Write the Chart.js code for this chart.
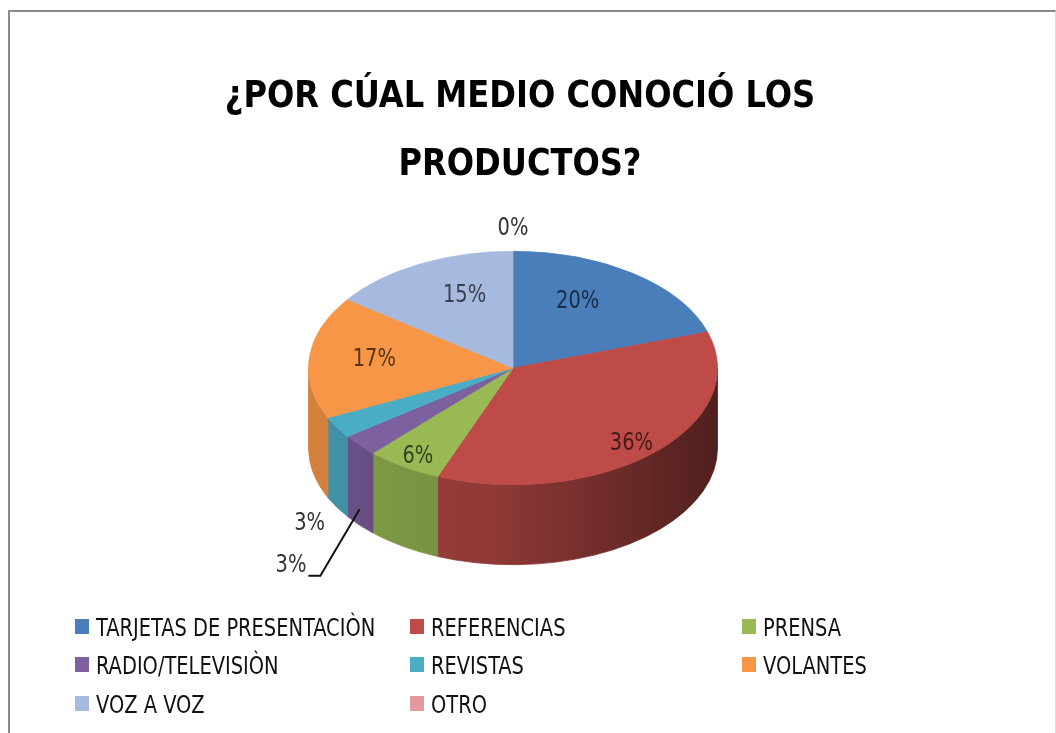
<!DOCTYPE html>
<html>
<head>
<meta charset="utf-8">
<script src="https://cdn.jsdelivr.net/npm/chart.js@4/dist/chart.umd.min.js"></script>
<style>
  html, body { margin: 0; padding: 0; background: #fff; overflow: hidden; }
  #wrap { position: absolute; left: 0; top: 0; width: 1056px; height: 733px; }
  #frame {
    position: absolute; left: 8px; top: 10px; width: 1048px; height: 760px;
    border-left: 2px solid #8a8a8a; border-top: 2px solid #8a8a8a; border-right: 1px solid #dcdcdc;
    box-sizing: border-box; pointer-events: none;
  }
</style>
</head>
<body>
<div id="wrap"><canvas id="c" width="1056" height="733"></canvas></div>
<div id="frame"></div>
<script>
// Survey answers: how people came to know the products
const categories = [
  'TARJETAS DE PRESENTACIÒN', 'REFERENCIAS', 'PRENSA',
  'RADIO/TELEVISIÒN', 'REVISTAS', 'VOLANTES',
  'VOZ A VOZ', 'OTRO'
];
const percentages = [20, 36, 6, 3, 3, 17, 15, 0];
const sliceColors = ['#4A7EBB', '#BE4B48', '#98B954', '#7D60A0', '#4BACC6', '#F79646', '#A6B9DE', '#E39A9E'];
const titleLines = ['¿POR CÚAL MEDIO CONOCIÓ LOS', 'PRODUCTOS?'];

// Tilted-disc look: vertical squash of the pie and the thickness of its edge
const SQUASH = 117 / 205;
const DEPTH = 80;

const NARROW = '"Liberation Sans Narrow", "DejaVu Sans Condensed", "Liberation Sans", sans-serif';

function shade(hex, f) {
  const n = parseInt(hex.slice(1), 16);
  const r = Math.round(((n >> 16) & 255) * f);
  const g = Math.round(((n >> 8) & 255) * f);
  const b = Math.round((n & 255) * f);
  return `rgb(${r},${g},${b})`;
}

function drawText(ctx, text, x, y, opts) {
  ctx.save();
  ctx.font = opts.font;
  ctx.fillStyle = opts.color || '#000';
  ctx.textAlign = opts.align || 'left';
  ctx.textBaseline = opts.baseline || 'alphabetic';
  ctx.translate(x, y);
  ctx.scale(opts.sx || 1, 1);
  ctx.fillText(text, 0, 0);
  ctx.restore();
}

// Squashes the pie vertically and paints the visible rim under the top faces
const pie3d = {
  id: 'pie3d',
  beforeDatasetsDraw(chart) {
    const ctx = chart.ctx;
    const meta = chart.getDatasetMeta(0);
    const first = meta.data[0];
    const cx = first.x, cy = first.y, r = first.outerRadius;
    const D = DEPTH / SQUASH;
    ctx.save();
    ctx.translate(0, cy);
    ctx.scale(1, SQUASH);
    ctx.translate(0, -cy);
    meta.data.forEach((el, i) => {
      const a0 = Math.max(el.startAngle, 0);
      const a1 = Math.min(el.endAngle, Math.PI);
      if (a1 <= a0) return;
      const base = sliceColors[i];
      const g = ctx.createLinearGradient(cx - r, 0, cx + r, 0);
      g.addColorStop(0, shade(base, 0.86));
      g.addColorStop(0.45, shade(base, 0.76));
      g.addColorStop(1, shade(base, 0.42));
      ctx.beginPath();
      ctx.arc(cx, cy, r, a0, a1);
      ctx.arc(cx, cy + D, r, a1, a0, true);
      ctx.closePath();
      ctx.fillStyle = g;
      ctx.strokeStyle = g;
      ctx.lineWidth = 1;
      ctx.fill();
      ctx.stroke();
    });
  },
  afterDatasetsDraw(chart) {
    chart.ctx.restore();
  }
};

// Title, percentage labels and the three-column legend
const decorations = {
  id: 'decorations',
  afterDraw(chart) {
    const ctx = chart.ctx;

    // title
    drawText(ctx, titleLines[0], 520, 107, { font: `bold 38px ${NARROW}`, align: 'center', color: '#000', sx: 0.94 });
    drawText(ctx, titleLines[1], 520, 175, { font: `bold 38px ${NARROW}`, align: 'center', color: '#000', sx: 0.94 });

    // percentage labels
    const meta = chart.getDatasetMeta(0);
    const first = meta.data[0];
    const cx = first.x, cy = first.y, r = first.outerRadius;
    const labelFont = `24px ${NARROW}`;
    const LH = 18, GAP = 14;
    const placed = [];
    const order = meta.data.map((_, i) => i).reverse();
    order.forEach(i => {
      const el = meta.data[i];
      const m = (el.startAngle + el.endAngle) / 2;
      const c = Math.cos(m), s = Math.sin(m);
      const text = percentages[i] + '%';
      ctx.font = labelFont;
      const w = ctx.measureText(text).width * 0.9;
      if (percentages[i] >= 4) {
        // the near half of the tilted disc looks larger, so labels sit further out there
        const fx = 0.7 + 0.2 * s, fy = 0.8 + 0.12 * s;
        const x = cx + r * c * fx;
        const y = cy + r * SQUASH * s * fy;
        drawText(ctx, text, x, y, { font: labelFont, align: 'center', baseline: 'middle', color: shade(sliceColors[i], 0.35), sx: 0.9 });
        placed.push({ x: x - w / 2, y: y - LH / 2, w, h: LH });
        return;
      }
      // outside the rim, below the edge when on the front half
      const rx = cx + r * c;
      const ry = cy + r * SQUASH * s + (s > 0 ? DEPTH : 0);
      const ext = Math.abs(c) * w / 2 + Math.abs(s) * LH / 2 + GAP;
      let x = rx + c * ext, y = ry + s * ext;
      const hits = b => placed.some(p => b.x < p.x + p.w + 6 && b.x + b.w + 6 > p.x && b.y < p.y + p.h + 6 && b.y + b.h + 6 > p.y);
      let box = { x: x - w / 2, y: y - LH / 2, w, h: LH };
      if (hits(box)) {
        x += c * 60; y += s * 30;
        box = { x: x - w / 2, y: y - LH / 2, w, h: LH };
        const ax = cx + r * c * 1.0;
        const ay = cy + r * SQUASH * s + (s > 0 ? DEPTH * 0.8 : 0);
        ctx.save();
        ctx.strokeStyle = '#111';
        ctx.lineWidth = 2;
        ctx.beginPath();
        ctx.moveTo(x + w / 2 + 2, y + 10);
        ctx.lineTo(x + w / 2 + 14, y + 10);
        ctx.lineTo(ax, ay);
        ctx.stroke();
        ctx.restore();
      }
      drawText(ctx, text, x, y, { font: labelFont, align: 'center', baseline: 'middle', color: '#333', sx: 0.9 });
      placed.push(box);
    });

    // legend, three columns filled row by row
    const colX = [75, 410, 742];
    const rowY = [636, 674, 713];
    categories.forEach((name, i) => {
      const x = colX[i % 3], y = rowY[Math.floor(i / 3)];
      ctx.fillStyle = sliceColors[i];
      ctx.fillRect(x, y - 17, 14, 15);
      drawText(ctx, name, x + 21, y, { font: `24px ${NARROW}`, color: '#111', sx: 0.9 });
    });
  }
};

new Chart(document.getElementById('c'), {
  type: 'pie',
  data: {
    labels: categories,
    datasets: [{
      data: percentages,
      backgroundColor: sliceColors,
      borderColor: sliceColors,
      borderWidth: 1,
      clip: false
    }]
  },
  options: {
    responsive: false,
    devicePixelRatio: 1,
    animation: false,
    events: [],
    layout: { padding: { left: 308, right: 338, top: 163, bottom: 160 } },
    plugins: {
      legend: { display: false },
      title: { display: false },
      tooltip: { enabled: false }
    }
  },
  plugins: [pie3d, decorations]
});
</script>
</body>
</html>
